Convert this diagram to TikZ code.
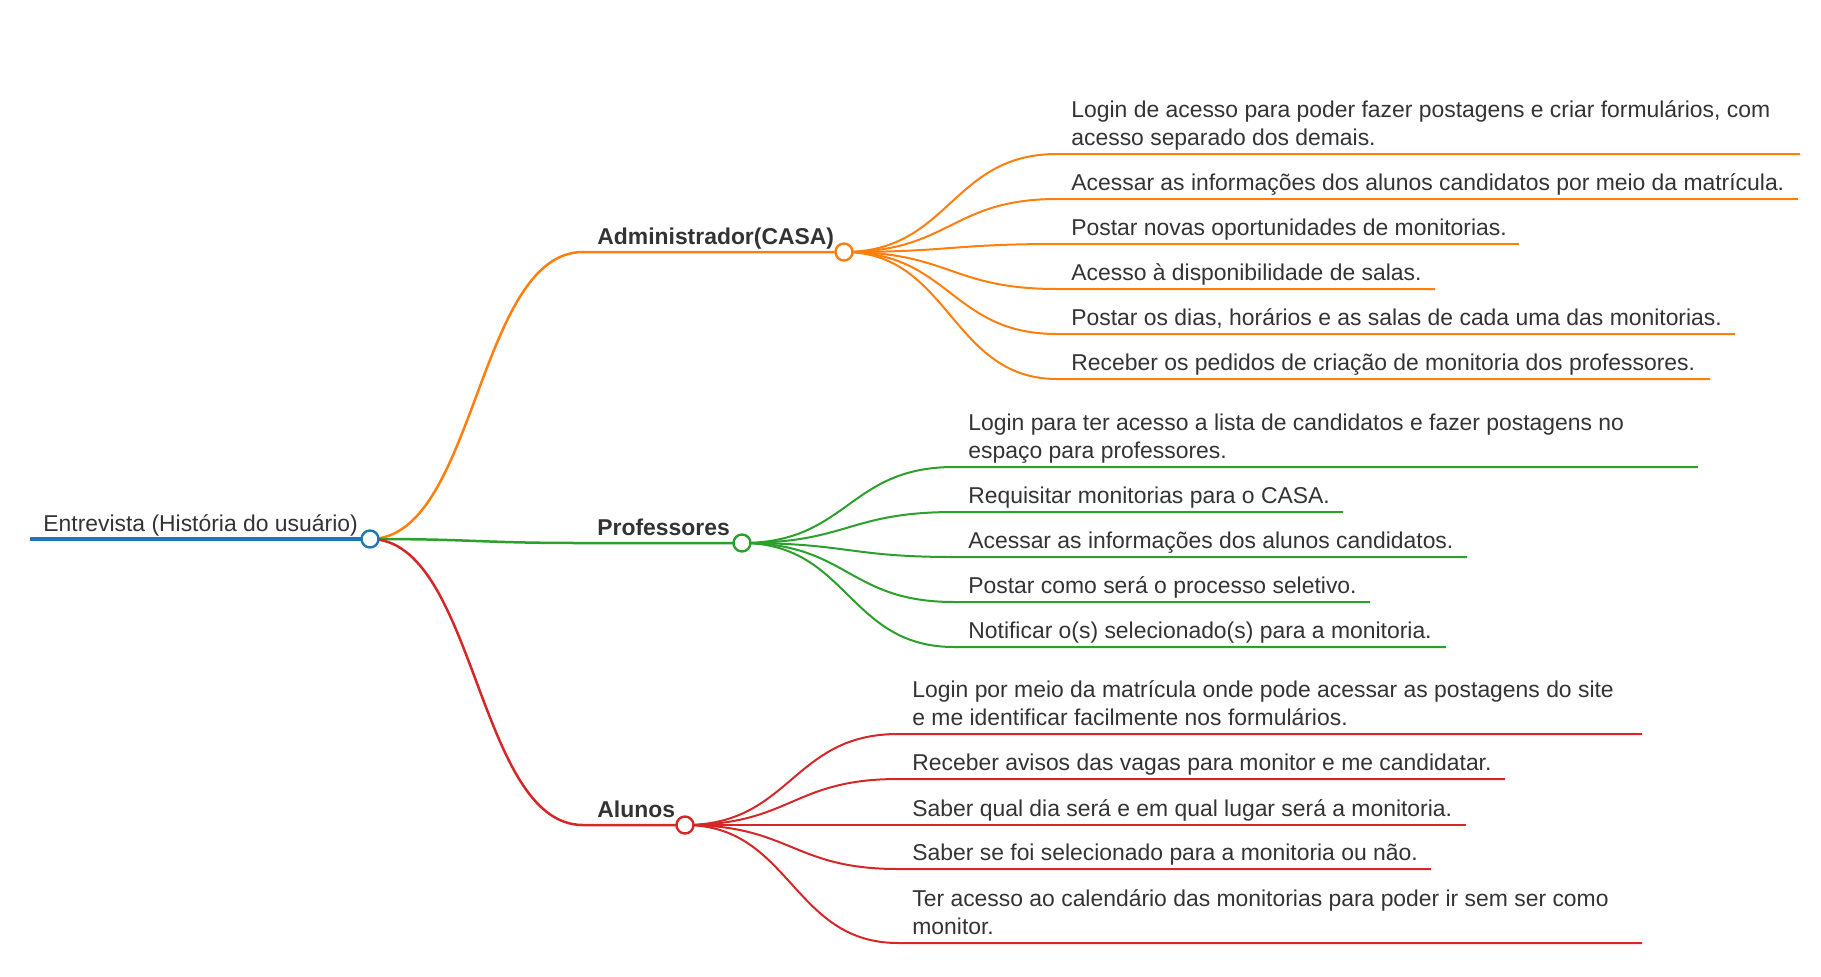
\documentclass[tikz,border=0pt]{standalone}
\usepackage{fontspec}
\setmainfont{Liberation Sans}
\usepackage{xcolor}
\usepackage{tikz}
\usetikzlibrary{positioning}
\pgfdeclarelayer{background}
\pgfsetlayers{background,main}

\definecolor{mmblue}{HTML}{1F77B4}
\definecolor{mmorange}{HTML}{FF7F0E}
\definecolor{mmgreen}{HTML}{2CA02C}
\definecolor{mmred}{HTML}{D62728}
\definecolor{mmtext}{HTML}{333333}

\tikzset{
  lbl/.style={font=\fontsize{11.45}{14}\selectfont, text=mmtext, inner sep=0pt, anchor=base west, align=left},
  hub/.style={circle, draw=#1, fill=white, line width=1.2pt, minimum size=8.5pt, inner sep=0pt},
  rootline/.style={draw=mmblue, line width=2pt},
  midline/.style={draw=#1, line width=1.25pt},
  leafline/.style={draw=#1, line width=1pt},
}

\begin{document}
\begin{tikzpicture}[x=0.5pt, y=-0.5pt]
        \useasboundingbox (0,0) rectangle (1821,976);
        % root
        \coordinate (r0) at (30,539);
        \node[hub=mmblue] (r) at (370,539) {};
        \node[lbl] (rt) at (43,531) {Entrevista (História do usuário)};
        % branches
        \coordinate (a0) at (583,252);
        \node[hub=mmorange] (a) at (844,252) {};
        \node[lbl, font=\fontsize{11.45}{14}\selectfont\bfseries] (at) at (597,244) {Administrador(CASA)};
        \coordinate (p0) at (583,543);
        \node[hub=mmgreen] (p) at (742,543) {};
        \node[lbl, font=\fontsize{11.45}{14}\selectfont\bfseries] (pt) at (597,535) {Professores};
        \coordinate (s0) at (583,825);
        \node[hub=mmred] (s) at (685,825) {};
        \node[lbl, font=\fontsize{11.45}{14}\selectfont\bfseries] (st) at (597,817) {Alunos};
        \begin{pgfonlayer}{background}
        \draw[rootline] (r0) -- (r.center);
        \draw[midline=mmorange] (r.center) .. controls +(106,0) and +(-106,0) .. (a0) -- (a.center);
        \draw[midline=mmgreen] (r.center) .. controls +(106,0) and +(-106,0) .. (p0) -- (p.center);
        \draw[midline=mmred] (r.center) .. controls +(106,0) and +(-106,0) .. (s0) -- (s.center);
        \end{pgfonlayer}
        % Administrador
        \foreach \i/\y/\e/\leaftext in {
            1/154/1800/{Login de acesso para poder fazer postagens e criar formulários, com\\acesso separado dos demais.},
            2/199/1798/{Acessar as informações dos alunos candidatos por meio da matrícula.},
            3/244/1519/{Postar novas oportunidades de monitorias.},
            4/289/1435/{Acesso à disponibilidade de salas.},
            5/334/1735/{Postar os dias, horários e as salas de cada uma das monitorias.},
            6/379/1710/{Receber os pedidos de criação de monitoria dos professores.}}{
          \coordinate (a\i) at (1057,\y);
          \coordinate (a\i e) at (\e,\y);
          \node[lbl] (a\i t) at (1071,\y-9) {\leaftext};
          \begin{pgfonlayer}{background}
          \draw[leafline=mmorange] (a.center) .. controls +(106,0) and +(-106,0) .. (a\i) -- (a\i e);
          \end{pgfonlayer}
        }
        % Professores
        \foreach \i/\y/\e/\leaftext in {
            1/467/1698/{Login para ter acesso a lista de candidatos e fazer postagens no\\espaço para professores.},
            2/512/1343/{Requisitar monitorias para o CASA.},
            3/557/1467/{Acessar as informações dos alunos candidatos.},
            4/602/1370/{Postar como será o processo seletivo.},
            5/647/1446/{Notificar o(s) selecionado(s) para a monitoria.}}{
          \coordinate (p\i) at (954,\y);
          \coordinate (p\i e) at (\e,\y);
          \node[lbl] (p\i t) at (968,\y-9) {\leaftext};
          \begin{pgfonlayer}{background}
          \draw[leafline=mmgreen] (p.center) .. controls +(106,0) and +(-106,0) .. (p\i) -- (p\i e);
          \end{pgfonlayer}
        }
        % Alunos
        \foreach \i/\y/\e/\leaftext in {
            1/734/1642/{Login por meio da matrícula onde pode acessar as postagens do site\\e me identificar facilmente nos formulários.},
            2/779/1505/{Receber avisos das vagas para monitor e me candidatar.},
            3/825/1466/{Saber qual dia será e em qual lugar será a monitoria.},
            4/869/1431/{Saber se foi selecionado para a monitoria ou não.},
            5/943/1642/{Ter acesso ao calendário das monitorias para poder ir sem ser como\\monitor.}}{
          \coordinate (s\i) at (898,\y);
          \coordinate (s\i e) at (\e,\y);
          \node[lbl] (s\i t) at (912,\y-9) {\leaftext};
          \begin{pgfonlayer}{background}
          \draw[leafline=mmred] (s.center) .. controls +(106,0) and +(-106,0) .. (s\i) -- (s\i e);
          \end{pgfonlayer}
        }
\end{tikzpicture}
\end{document}
